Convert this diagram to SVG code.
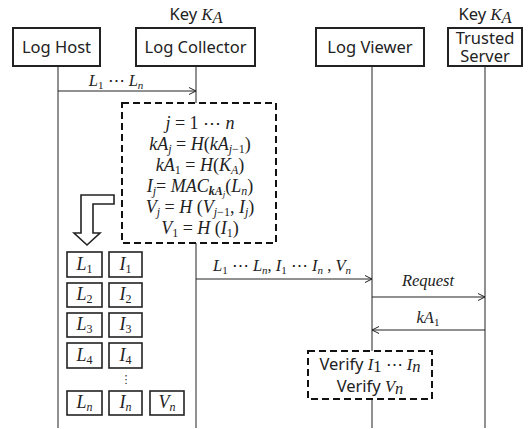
<svg xmlns="http://www.w3.org/2000/svg" width="530" height="429" viewBox="0 0 530 429">
<defs>
<marker id="ah" markerWidth="9" markerHeight="8" refX="8" refY="4" orient="auto" markerUnits="userSpaceOnUse">
<path d="M1,0.5 L8,4 L1,7.5" fill="none" stroke="#222" stroke-width="1"/>
</marker>
<style>
.box{fill:#fff;stroke:#222;stroke-width:2}
.sb{fill:#fff;stroke:#222;stroke-width:1.6}
.dash{fill:#fff;stroke:#111;stroke-width:2;stroke-dasharray:7,4}
.life{stroke:#222;stroke-width:1;fill:none}
.msg{stroke:#222;stroke-width:1;fill:none;marker-end:url(#ah)}
.sans{font-family:"Noto Sans","Open Sans",sans-serif;font-size:16.5px;fill:#222}
.m{font-family:"Liberation Serif","DejaVu Serif",serif;font-style:italic;font-size:16.5px;fill:#222}
.mb{font-family:"Liberation Serif","DejaVu Serif",serif;font-style:italic;font-size:18px;fill:#222}
.r{font-style:normal}
</style>
</defs>
<rect width="530" height="429" fill="#fff"/>
<g id="connectors">
<line class="life" x1="58" y1="66" x2="58" y2="428"/>
<line class="life" x1="196" y1="66" x2="196" y2="428"/>
<line class="life" x1="372" y1="66" x2="372" y2="428"/>
<line class="life" x1="485" y1="66" x2="485" y2="428"/>
<line class="msg" x1="58" y1="91" x2="196" y2="91"/>
<text class="m" x="116" y="86" text-anchor="middle">L<tspan dy="3" font-size="11" class="r">1</tspan><tspan dy="-3" class="r"> ⋯ </tspan>L<tspan dy="3" font-size="11">n</tspan></text>
<line class="msg" x1="196" y1="279" x2="372" y2="279"/>
<text class="m" x="282" y="271" text-anchor="middle">L<tspan dy="3" font-size="11" class="r">1</tspan><tspan dy="-3" class="r"> ⋯ </tspan>L<tspan dy="3" font-size="11">n</tspan><tspan dy="-3" class="r">, </tspan>I<tspan dy="3" font-size="11" class="r">1</tspan><tspan dy="-3" class="r"> ⋯ </tspan>I<tspan dy="3" font-size="11">n</tspan><tspan dy="-3" class="r"> , </tspan>V<tspan dy="3" font-size="11">n</tspan></text>
<line class="msg" x1="372" y1="297" x2="485" y2="297"/>
<text class="m" x="428" y="286" text-anchor="middle">Request</text>
<line class="msg" x1="485" y1="330" x2="372" y2="330"/>
<text class="m" x="428" y="323" text-anchor="middle">kA<tspan dy="3" font-size="11" class="r">1</tspan></text>
</g>
<g id="log-host">
<rect class="box" x="13" y="28" width="87" height="38"/>
<text class="sans" x="56.5" y="53" text-anchor="middle">Log Host</text>
</g>
<g id="log-collector">
<text class="sans" x="196" y="20" text-anchor="middle" font-size="15">Key <tspan class="m">K</tspan><tspan class="m" font-size="11" dy="3">A</tspan></text>
<rect class="box" x="136" y="28" width="119" height="38"/>
<text class="sans" x="195.5" y="53" text-anchor="middle">Log Collector</text>
</g>
<g id="log-viewer">
<rect class="box" x="316" y="28" width="108" height="38"/>
<text class="sans" x="370" y="53" text-anchor="middle">Log Viewer</text>
</g>
<g id="trusted-server">
<text class="sans" x="485" y="20" text-anchor="middle" font-size="15">Key <tspan class="m">K</tspan><tspan class="m" font-size="11" dy="3">A</tspan></text>
<rect class="box" x="448" y="28" width="74" height="38"/>
<text class="sans" x="485" y="44" text-anchor="middle" font-size="14.5">Trusted</text>
<text class="sans" x="485" y="62" text-anchor="middle" font-size="14.5">Server</text>
</g>
<g id="computation">
<rect class="dash" x="122" y="103" width="154" height="140"/>
<text class="mb" x="200" y="129" text-anchor="middle">j<tspan class="r"> = 1 ⋯ </tspan>n</text>
<text class="mb" x="200" y="150" text-anchor="middle">kA<tspan dy="3" font-size="12">j</tspan><tspan dy="-3" class="r"> = </tspan>H<tspan class="r">(</tspan>kA<tspan dy="3" font-size="12">j<tspan class="r">−1</tspan></tspan><tspan dy="-3" class="r">)</tspan></text>
<text class="mb" x="200" y="171" text-anchor="middle">kA<tspan dy="3" font-size="12" class="r">1</tspan><tspan dy="-3" class="r"> = </tspan>H<tspan class="r">(</tspan>K<tspan dy="3" font-size="12">A</tspan><tspan dy="-3" class="r">)</tspan></text>
<text class="mb" x="200" y="192" text-anchor="middle">I<tspan dy="3" font-size="12">j</tspan><tspan dy="-3" class="r">= </tspan>MAC<tspan dy="3" font-size="12" font-weight="bold">kA<tspan dy="2" font-size="9" font-weight="normal">j</tspan></tspan><tspan dy="-5" class="r">(</tspan>L<tspan dy="3" font-size="12">n</tspan><tspan dy="-3" class="r">)</tspan></text>
<text class="mb" x="200" y="213" text-anchor="middle">V<tspan dy="3" font-size="12">j</tspan><tspan dy="-3" class="r"> = </tspan>H<tspan class="r"> (</tspan>V<tspan dy="3" font-size="12">j<tspan class="r">−1</tspan></tspan><tspan dy="-3" class="r">, </tspan>I<tspan dy="3" font-size="12">j</tspan><tspan dy="-3" class="r">)</tspan></text>
<text class="mb" x="200" y="234" text-anchor="middle">V<tspan dy="3" font-size="12" class="r">1</tspan><tspan dy="-3" class="r"> = </tspan>H<tspan class="r"> (</tspan>I<tspan dy="3" font-size="12" class="r">1</tspan><tspan dy="-3" class="r">)</tspan></text>
</g>
<g id="block-arrow">
<polygon points="114,195 81,195 81,233 74,233 87,245 100,233 93,233 93,204 114,204" fill="#fff" stroke="#222" stroke-width="1.6" stroke-linejoin="miter"/>
</g>
<g id="stored-logs">
<rect class="sb" x="67" y="252" width="35" height="25"/>
<text class="mb" x="84.5" y="270" text-anchor="middle">L<tspan dy="3" font-size="12" class="r">1</tspan></text>
<rect class="sb" x="109" y="252" width="33" height="25"/>
<text class="mb" x="125.5" y="270" text-anchor="middle">I<tspan dy="3" font-size="12" class="r">1</tspan></text>
<rect class="sb" x="67" y="283" width="35" height="24"/>
<text class="mb" x="84.5" y="300" text-anchor="middle">L<tspan dy="3" font-size="12" class="r">2</tspan></text>
<rect class="sb" x="109" y="283" width="33" height="24"/>
<text class="mb" x="125.5" y="300" text-anchor="middle">I<tspan dy="3" font-size="12" class="r">2</tspan></text>
<rect class="sb" x="67" y="313" width="35" height="24"/>
<text class="mb" x="84.5" y="330" text-anchor="middle">L<tspan dy="3" font-size="12" class="r">3</tspan></text>
<rect class="sb" x="109" y="313" width="33" height="24"/>
<text class="mb" x="125.5" y="330" text-anchor="middle">I<tspan dy="3" font-size="12" class="r">3</tspan></text>
<rect class="sb" x="67" y="343" width="35" height="25"/>
<text class="mb" x="84.5" y="361" text-anchor="middle">L<tspan dy="3" font-size="12" class="r">4</tspan></text>
<rect class="sb" x="109" y="343" width="33" height="25"/>
<text class="mb" x="125.5" y="361" text-anchor="middle">I<tspan dy="3" font-size="12" class="r">4</tspan></text>
<text x="126" y="383" text-anchor="middle" font-family="DejaVu Sans, sans-serif" font-size="11" fill="#222">⋮</text>
<rect class="sb" x="67" y="391" width="35" height="24"/>
<text class="mb" x="84.5" y="408" text-anchor="middle">L<tspan dy="3" font-size="12">n</tspan></text>
<rect class="sb" x="109" y="391" width="33" height="24"/>
<text class="mb" x="125.5" y="408" text-anchor="middle">I<tspan dy="3" font-size="12">n</tspan></text>
<rect class="sb" x="150" y="391" width="34" height="24"/>
<text class="mb" x="167" y="408" text-anchor="middle">V<tspan dy="3" font-size="12">n</tspan></text>
</g>
<g id="verify">
<rect class="dash" x="308" y="351" width="124" height="48"/>
<text class="sans" x="370" y="370" text-anchor="middle" font-size="15">Verify <tspan class="m" font-size="16">I</tspan><tspan class="m r" font-size="10.5" dy="2">1</tspan><tspan class="m r" font-size="16" dy="-2"> ⋯ </tspan><tspan class="m" font-size="16">I</tspan><tspan class="m" font-size="10.5" dy="2">n</tspan></text>
<text class="sans" x="370" y="392" text-anchor="middle" font-size="15">Verify <tspan class="m" font-size="16">V</tspan><tspan class="m" font-size="10.5" dy="2">n</tspan></text>
</g>
</svg>
